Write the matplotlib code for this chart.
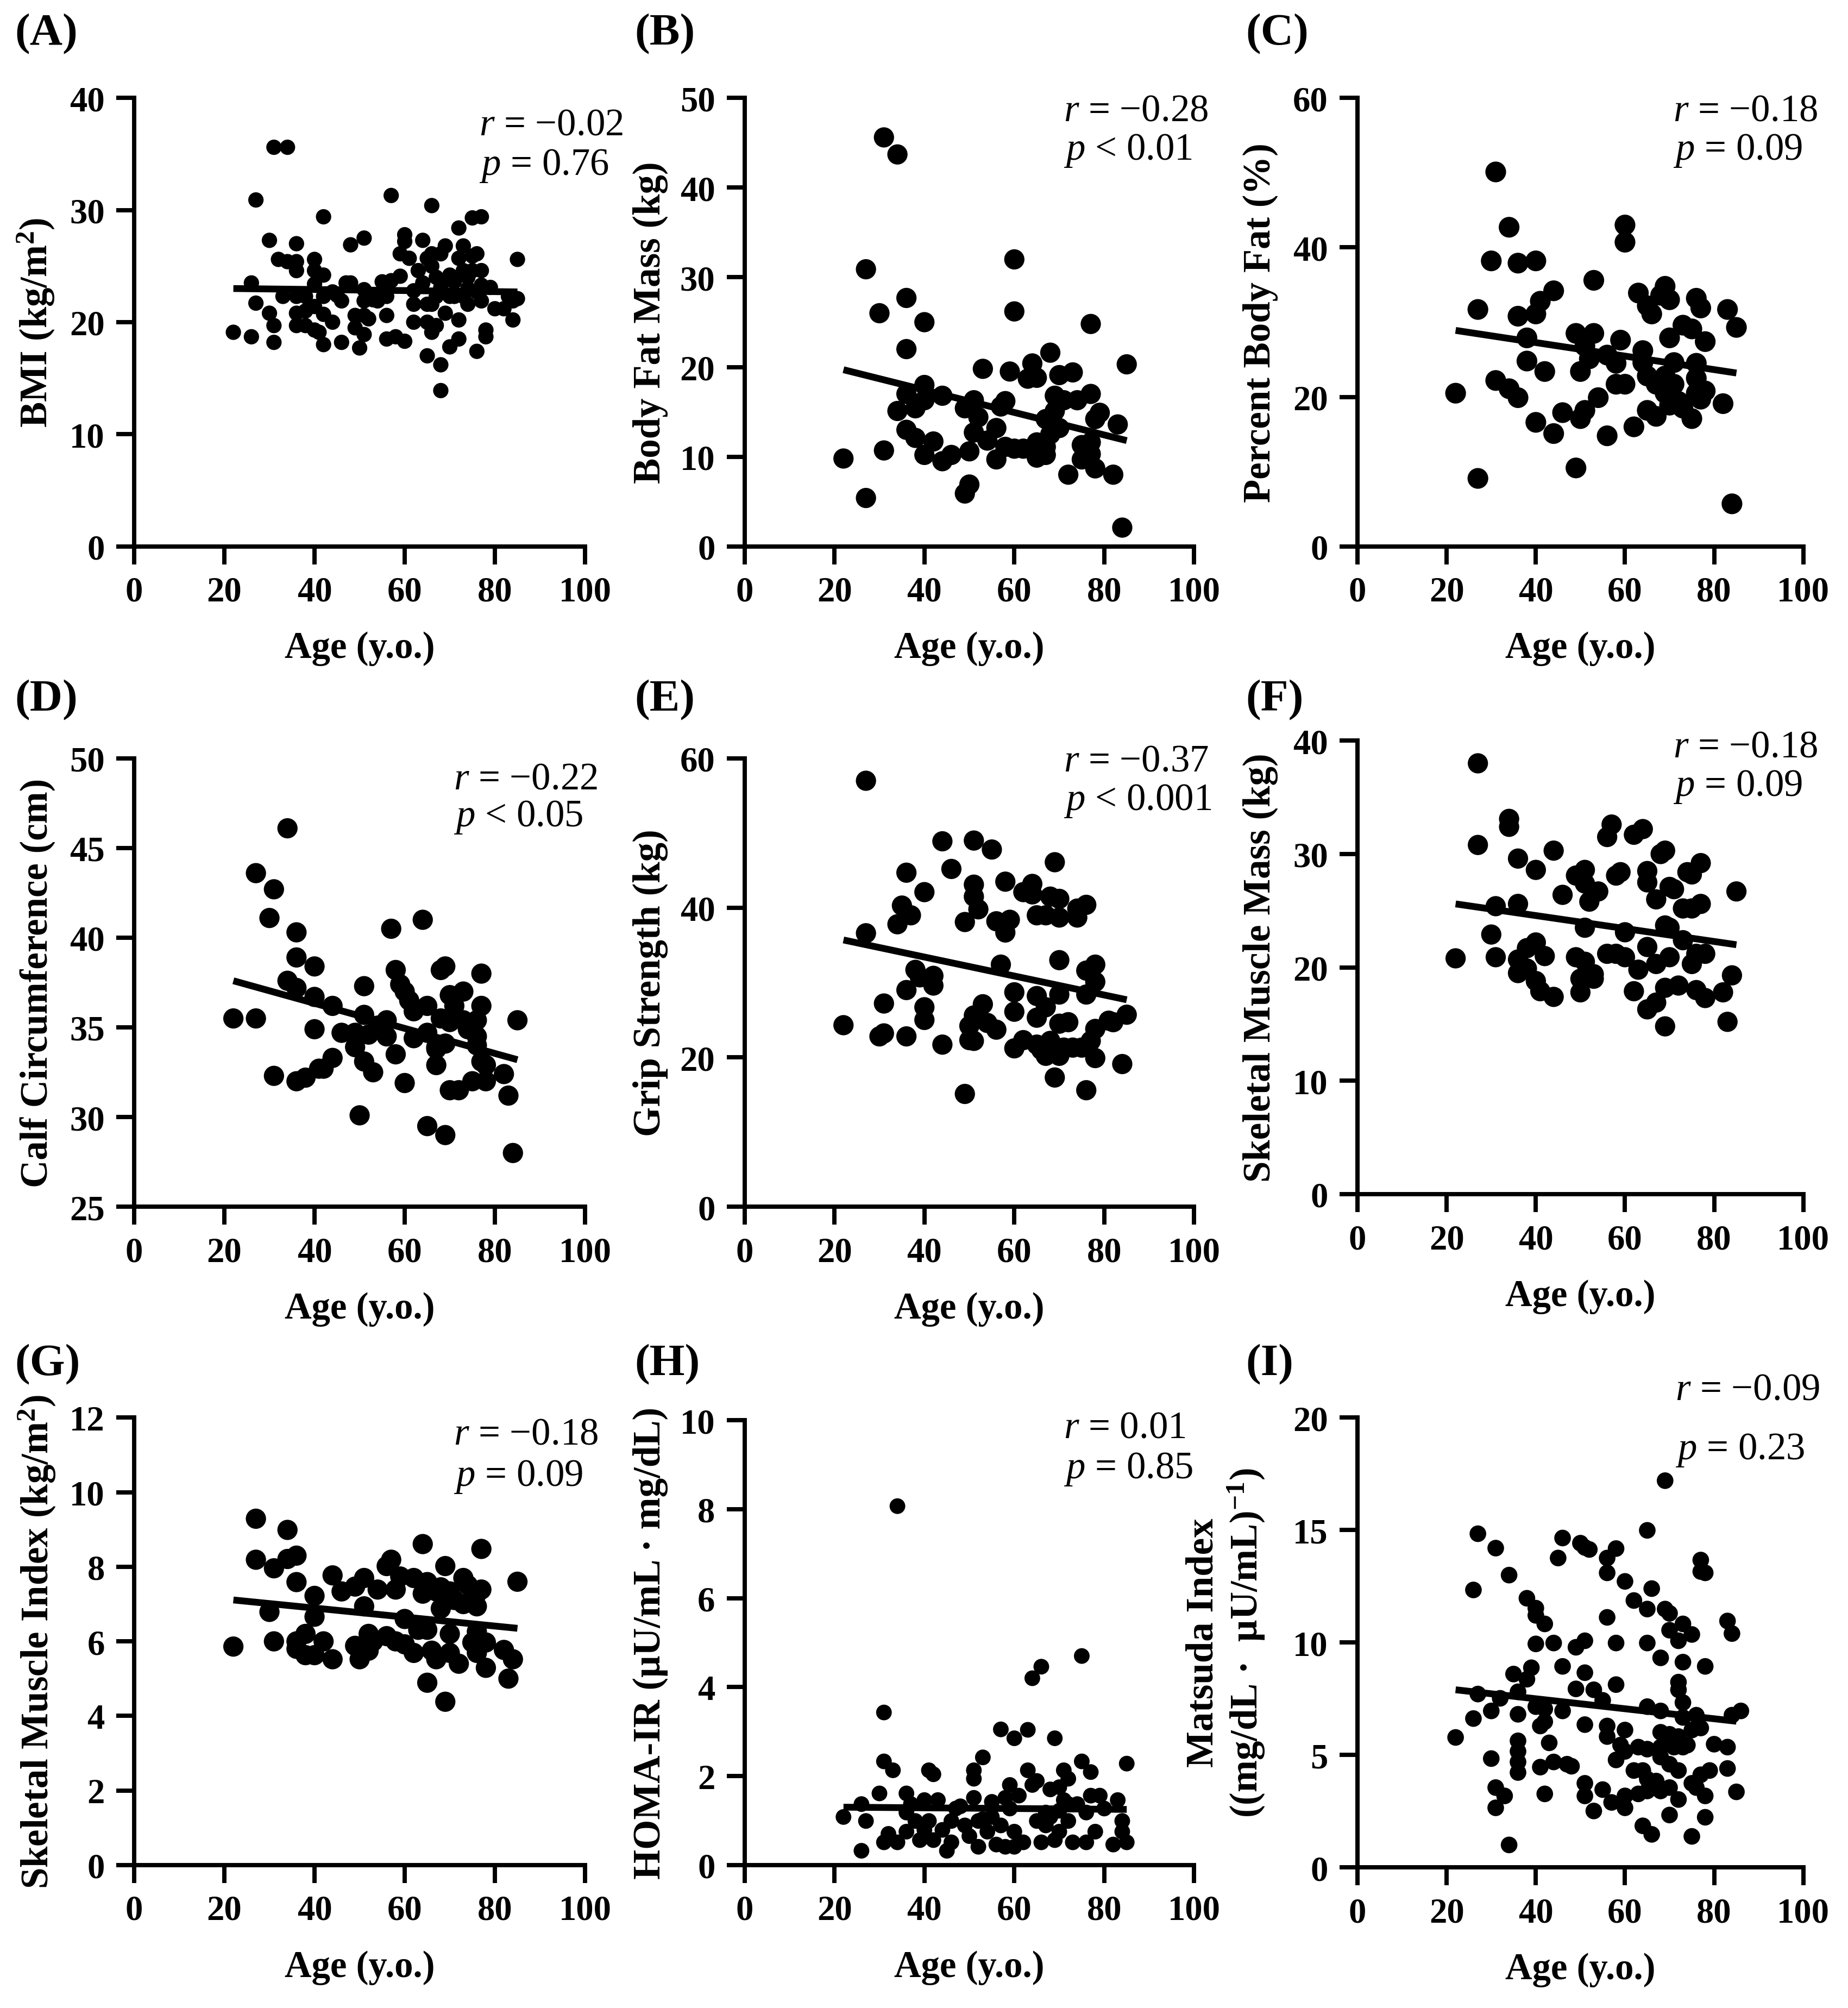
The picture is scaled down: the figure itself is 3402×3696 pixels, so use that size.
import numpy as np
import matplotlib
matplotlib.use("Agg")
from matplotlib import pyplot as plt

plt.rcParams['font.family'] = ['Liberation Serif', 'DejaVu Serif']
plt.rcParams['mathtext.fontset'] = 'custom'
plt.rcParams['mathtext.rm'] = 'Liberation Serif'
plt.rcParams['mathtext.it'] = 'Liberation Serif:italic'
plt.rcParams['mathtext.bf'] = 'Liberation Serif:bold'

# ---- data: (age, value) ----
bmi_pts = [(22, 19.1), (26, 23.5), (26, 18.7), (27, 30.9), (27, 21.7), (30, 27.3), (30, 20.8), (31, 19.7),
           (31, 18.2), (31, 35.6), (34, 35.6), (32, 25.6), (34, 25.4), (33, 22.3), (36, 27.0), (36, 25.4),
           (36, 24.6), (36, 22.3), (36, 20.8), (36, 19.7), (38, 22.3), (38, 19.7), (40, 25.6), (40, 24.6),
           (40, 23.4), (40, 21.4), (40, 19.3), (41, 19.1), (42, 29.4), (42, 24.2), (42, 22.3), (42, 20.7),
           (42, 18.0), (44, 22.7), (44, 20.0), (46, 21.9), (46, 18.2), (47, 23.5), (48, 26.9), (48, 23.5),
           (49, 20.6), (49, 19.5), (50, 17.7), (51, 27.5), (51, 22.9), (51, 21.9), (51, 20.6), (51, 18.9),
           (52, 20.3), (53, 22.3), (54, 21.9), (55, 23.6), (56, 22.3), (56, 20.6), (56, 18.5), (57, 23.7),
           (57, 31.3), (58, 18.7), (59, 24.1), (59, 26.1), (60, 27.8), (60, 27.2), (60, 18.3), (61, 25.7),
           (62, 21.6), (62, 20.0), (63, 24.6), (64, 27.3), (64, 23.5), (65, 25.7), (65, 21.6), (65, 20.0),
           (65, 17.0), (66, 30.4), (66, 26.1), (66, 25.0), (66, 21.6), (66, 19.1), (67, 19.7), (67, 22.3),
           (68, 16.2), (68, 13.9), (68, 23.1), (68, 26.1), (69, 26.8), (69, 20.8), (70, 24.2), (70, 17.8),
           (70, 22.3), (71, 23.6), (71, 22.3), (72, 28.4), (72, 25.7), (72, 20.2), (72, 18.5), (73, 26.8),
           (73, 24.6), (73, 22.3), (74, 24.0), (74, 21.6), (75, 29.3), (75, 25.9), (75, 24.6), (76, 22.7),
           (76, 17.4), (76, 26.1), (77, 29.4), (77, 24.6), (77, 23.3), (77, 21.9), (78, 19.3), (78, 18.7),
           (79, 23.1), (80, 21.2), (82, 21.2), (83, 22.3), (84, 20.2), (84, 21.9), (85, 25.6), (85, 22.1),
           (67, 24.0), (70, 23.8), (74, 23.0), (62, 22.8), (45, 22.4), (53, 22.0), (38, 21.0)]

fat_pts = [(22, 9.8), (27, 30.9), (27, 5.4), (30, 26.0), (31, 45.6), (31, 10.7), (34, 43.7), (34, 15.1),
           (36, 27.7), (36, 22.0), (36, 17.0), (36, 13.0), (38, 15.4), (38, 12.1), (40, 25.0), (40, 18.0),
           (40, 16.3), (40, 10.2), (42, 11.7), (44, 16.8), (44, 9.5), (46, 10.2), (49, 15.4), (49, 5.9),
           (50, 6.9), (50, 10.6), (51, 16.3), (51, 12.7), (52, 14.4), (53, 19.8), (54, 11.8), (56, 13.2),
           (56, 9.7), (57, 15.6), (58, 16.2), (59, 19.5), (58, 11.1), (60, 32.0), (60, 26.2), (60, 10.9),
           (62, 10.9), (63, 18.7), (64, 20.4), (65, 11.6), (65, 18.8), (65, 9.9), (67, 14.2), (67, 10.2),
           (67, 11.1), (68, 12.5), (68, 21.6), (69, 16.8), (69, 15.1), (70, 19.1), (70, 13.2), (71, 16.3),
           (72, 8.0), (73, 19.4), (74, 16.3), (75, 11.3), (75, 9.7), (77, 17.0), (77, 11.6), (77, 10.3),
           (77, 24.8), (78, 14.2), (78, 8.7), (79, 14.9), (82, 8.0), (83, 13.6), (84, 2.1), (85, 20.3)]

pbf_pts = [(22, 20.5), (27, 31.7), (27, 9.1), (30, 38.2), (31, 50.1), (31, 22.2), (34, 42.7), (34, 21.1),
           (36, 37.9), (36, 30.8), (36, 19.9), (38, 27.9), (38, 24.8), (40, 38.2), (40, 31.1), (40, 16.6),
           (41, 32.8), (42, 23.4), (44, 34.2), (44, 15.1), (46, 17.9), (49, 28.5), (49, 10.5), (50, 17.1),
           (50, 23.4), (51, 26.8), (51, 18.2), (52, 25.1), (53, 28.5), (53, 35.6), (54, 19.9), (56, 25.6),
           (56, 14.8), (58, 21.7), (58, 24.5), (59, 27.6), (60, 43.0), (60, 40.7), (60, 21.7), (62, 16.0),
           (63, 33.9), (64, 26.2), (64, 24.6), (65, 32.2), (65, 18.2), (65, 22.8), (66, 31.1), (67, 21.7),
           (67, 17.4), (68, 33.6), (69, 34.8), (69, 22.8), (70, 33.0), (69, 20.5), (70, 18.9), (70, 27.9),
           (71, 24.6), (71, 21.7), (72, 19.4), (73, 29.6), (73, 18.5), (75, 17.1), (75, 29.1), (76, 33.2),
           (76, 24.5), (76, 22.5), (76, 20.5), (77, 31.9), (77, 19.7), (78, 27.4), (78, 20.8), (82, 19.1),
           (83, 31.7), (84, 5.7), (85, 29.3)]

calf_pts = [(22, 35.5), (27, 35.5), (27, 43.6), (31, 42.7), (30, 41.1), (31, 32.3), (34, 46.1), (34, 37.6),
            (36, 40.3), (36, 38.9), (36, 37.2), (36, 32.0), (38, 32.2), (40, 38.4), (40, 36.7), (40, 34.9),
            (41, 32.7), (42, 32.7), (44, 36.2), (44, 33.3), (46, 34.7), (49, 34.7), (49, 33.9), (50, 30.1),
            (51, 37.3), (51, 35.7), (51, 33.1), (52, 34.6), (53, 32.5), (54, 35.1), (56, 35.4), (56, 34.5),
            (57, 40.5), (58, 38.2), (58, 33.5), (59, 37.4), (60, 37.0), (60, 31.9), (61, 36.5), (62, 35.9),
            (62, 34.4), (64, 41.0), (65, 36.2), (65, 34.7), (65, 29.5), (67, 33.9), (67, 32.9), (67, 33.8),
            (68, 38.2), (68, 35.5), (69, 38.4), (69, 34.1), (69, 29.0), (70, 36.8), (70, 31.5), (70, 35.3),
            (71, 36.2), (72, 31.5), (73, 37.0), (73, 35.4), (74, 34.9), (75, 32.0), (76, 35.4), (76, 34.5),
            (76, 34.0), (77, 33.1), (77, 38.0), (77, 36.2), (78, 32.0), (78, 32.9), (82, 32.4), (83, 31.2),
            (84, 28.0), (85, 35.4)]

grip_pts = [(22, 24.3), (27, 57.0), (27, 36.6), (30, 22.8), (31, 27.2), (31, 23.2), (34, 37.8), (35, 40.3),
            (36, 44.7), (36, 29.0), (36, 22.8), (37, 39.0), (38, 31.7), (39, 30.7), (40, 42.1), (40, 26.7),
            (40, 25.0), (42, 30.9), (42, 29.6), (44, 48.9), (44, 21.7), (46, 45.2), (49, 38.1), (49, 15.1),
            (50, 24.2), (50, 22.3), (51, 49.0), (51, 43.1), (51, 41.5), (51, 25.6), (51, 22.2), (52, 39.8),
            (53, 27.1), (55, 47.8), (54, 24.6), (56, 23.7), (56, 38.2), (57, 32.4), (58, 43.5), (58, 36.7),
            (59, 38.4), (60, 28.7), (60, 26.1), (60, 21.2), (62, 42.1), (62, 22.3), (64, 43.2), (64, 41.8),
            (65, 39.0), (65, 28.2), (65, 25.3), (65, 21.7), (66, 21.0), (67, 39.0), (67, 26.7), (67, 20.2),
            (68, 22.2), (68, 41.5), (69, 46.1), (69, 17.3), (70, 41.2), (70, 38.7), (70, 33.0), (70, 28.4),
            (70, 24.5), (70, 20.2), (71, 21.3), (72, 24.7), (73, 21.3), (74, 39.9), (74, 38.7), (75, 21.3),
            (76, 40.4), (76, 31.6), (76, 28.4), (76, 15.6), (77, 22.2), (78, 30.1), (78, 32.4), (78, 19.9),
            (78, 23.8), (81, 24.9), (82, 24.7), (84, 19.1), (85, 25.7)]

smm_pts = [(22, 20.8), (27, 38.0), (27, 30.8), (30, 22.9), (31, 25.4), (31, 20.9), (34, 33.1), (34, 32.4),
           (36, 29.6), (36, 25.6), (36, 20.7), (36, 19.5), (38, 21.7), (38, 19.9), (40, 28.6), (40, 18.8),
           (40, 22.2), (41, 17.9), (42, 21.0), (44, 30.3), (44, 17.4), (46, 26.4), (49, 28.1), (49, 20.9),
           (50, 19.0), (50, 17.8), (51, 28.6), (51, 27.4), (51, 23.5), (51, 20.5), (52, 25.8), (53, 19.4),
           (54, 26.7), (53, 19.0), (56, 31.5), (57, 32.6), (56, 21.2), (58, 28.1), (59, 28.4), (58, 21.2),
           (60, 23.1), (60, 20.9), (62, 31.7), (62, 17.9), (63, 19.8), (64, 32.2), (65, 28.5), (65, 27.5),
           (65, 21.8), (65, 16.3), (67, 26.0), (67, 20.3), (67, 16.9), (68, 30.0), (69, 30.3), (69, 23.7),
           (69, 14.8), (70, 23.5), (70, 20.9), (70, 27.1), (71, 26.9), (69, 18.2), (72, 18.4), (73, 22.4),
           (73, 25.2), (75, 20.3), (74, 28.4), (75, 28.2), (75, 25.2), (76, 21.2), (76, 18.0), (77, 25.6),
           (77, 29.2), (78, 17.3), (78, 21.2), (82, 17.8), (83, 15.2), (84, 19.3), (85, 26.7)]

smi_pts = [(22, 5.86), (27, 9.29), (27, 8.19), (30, 6.79), (31, 7.96), (31, 6.0), (34, 8.99), (34, 8.21),
           (36, 8.30), (36, 7.59), (36, 6.0), (36, 5.80), (38, 6.2), (38, 5.63), (40, 7.22), (40, 6.66),
           (40, 5.63), (42, 6.0), (44, 7.77), (44, 5.52), (46, 7.34), (49, 7.47), (49, 5.88), (50, 5.52),
           (51, 7.70), (51, 6.94), (52, 6.2), (52, 5.75), (53, 6.0), (54, 7.39), (56, 8.02), (57, 8.19),
           (56, 6.14), (58, 7.39), (58, 6.0), (59, 7.74), (60, 6.60), (60, 5.92), (62, 7.70), (62, 5.69),
           (64, 8.61), (63, 6.31), (65, 7.59), (64, 7.28), (65, 6.31), (65, 4.89), (66, 5.75), (67, 7.34),
           (67, 5.52), (68, 7.45), (68, 6.88), (69, 8.02), (69, 4.38), (69, 7.11), (70, 6.2), (70, 5.69),
           (70, 7.34), (71, 7.11), (72, 5.40), (73, 7.70), (73, 7.0), (74, 7.51), (75, 5.97), (76, 7.28),
           (76, 6.26), (76, 5.69), (76, 6.94), (77, 8.48), (77, 7.39), (78, 5.97), (78, 5.29), (82, 5.77),
           (83, 5.0), (84, 5.52), (85, 7.60)]

homa_pts = [(22, 1.08), (26, 1.37), (26, 0.32), (27, 0.99), (30, 1.61), (31, 3.43), (31, 2.33), (31, 0.51),
            (32, 0.70), (33, 2.13), (34, 8.07), (34, 0.51), (36, 1.61), (36, 1.18), (36, 0.75), (38, 0.99),
            (39, 0.56), (40, 1.46), (40, 0.79), (41, 2.13), (41, 0.99), (42, 2.04), (42, 0.56), (43, 1.46),
            (44, 0.79), (45, 0.32), (46, 0.51), (46, 0.99), (48, 1.32), (49, 0.89), (50, 0.65), (51, 2.13),
            (51, 1.51), (51, 1.94), (52, 0.99), (52, 0.41), (53, 2.42), (53, 1.03), (54, 0.75), (55, 1.42),
            (56, 0.46), (57, 3.05), (57, 0.89), (58, 0.41), (58, 1.51), (59, 1.80), (60, 2.85), (60, 0.75),
            (60, 0.41), (61, 1.56), (62, 0.51), (63, 2.13), (63, 3.04), (64, 4.20), (64, 1.80), (65, 1.89),
            (65, 0.99), (66, 4.46), (66, 0.51), (67, 0.89), (68, 1.70), (69, 2.85), (69, 0.56), (70, 1.75),
            (70, 1.22), (70, 0.75), (71, 2.13), (71, 1.46), (72, 1.94), (72, 0.99), (73, 0.51), (74, 1.37),
            (75, 4.70), (75, 2.33), (76, 0.51), (77, 2.09), (77, 1.56), (78, 0.75), (79, 1.56), (80, 1.27),
            (82, 0.46), (83, 1.46), (84, 0.99), (84, 0.75), (85, 2.28), (85, 0.51), (59, 1.27), (55, 1.08),
            (72, 1.37), (67, 1.18), (47, 1.27), (37, 1.37), (68, 1.08), (76, 1.18)]

mat_pts = [(22, 5.78), (26, 12.34), (26, 6.62), (27, 14.84), (27, 7.71), (30, 6.96), (30, 4.84), (31, 14.20),
           (31, 3.55), (31, 2.65), (32, 7.52), (33, 3.18), (34, 13.0), (34, 1.0), (35, 8.60), (36, 7.81),
           (36, 6.81), (36, 5.63), (36, 5.16), (36, 4.69), (36, 4.22), (38, 11.97), (38, 8.37), (39, 8.88),
           (40, 11.53), (40, 11.21), (40, 9.94), (40, 7.15), (41, 6.29), (41, 4.46), (42, 10.83), (42, 7.05),
           (42, 6.48), (42, 3.27), (43, 5.54), (44, 9.98), (44, 4.69), (45, 13.76), (46, 14.65), (46, 8.94),
           (46, 6.96), (47, 4.59), (48, 4.50), (49, 9.79), (49, 7.94), (50, 14.42), (51, 14.23), (51, 10.08),
           (51, 8.66), (51, 6.35), (51, 3.74), (51, 3.18), (52, 14.14), (53, 7.90), (53, 2.51), (55, 7.43),
           (55, 3.46), (56, 13.76), (56, 13.10), (56, 11.12), (56, 6.29), (56, 5.82), (57, 2.89), (58, 9.98),
           (58, 14.18), (58, 8.13), (58, 4.78), (59, 5.44), (60, 2.65), (60, 12.72), (60, 6.11), (60, 3.18),
           (60, 5.16), (62, 11.87), (62, 4.31), (63, 5.35), (63, 3.27), (64, 1.85), (64, 4.31), (65, 14.99),
           (65, 11.49), (65, 9.98), (65, 7.15), (65, 5.26), (65, 3.93), (65, 3.40), (66, 12.40), (66, 1.47),
           (67, 3.84), (68, 4.91), (68, 6.96), (68, 6.01), (68, 5.35), (68, 3.40), (68, 9.32), (69, 11.49),
           (69, 17.20), (70, 2.33), (70, 3.55), (70, 11.30), (70, 10.55), (70, 5.92), (70, 4.59), (71, 5.35),
           (72, 5.82), (72, 4.31), (72, 10.08), (72, 8.24), (72, 7.90), (72, 3.02), (73, 10.83), (73, 9.13),
           (73, 7.33), (73, 6.67), (73, 5.35), (74, 5.44), (75, 10.36), (75, 3.74), (75, 1.38), (75, 6.11),
           (76, 3.55), (76, 6.77), (77, 13.67), (77, 13.16), (77, 6.20), (77, 4.12), (78, 3.18), (78, 2.23),
           (78, 13.10), (78, 8.94), (79, 4.31), (80, 5.48), (83, 10.96), (83, 5.35), (83, 4.40), (84, 10.40),
           (85, 3.36), (86, 6.96), (84, 6.77)]

# regression line end points (age 22 -> 85)
fit_x = [22, 85]
fit_bmi = [23.0, 22.7]
fit_fat = [19.7, 11.8]
fit_pbf = [28.9, 23.2]
fit_calf = [37.6, 33.2]
fit_grip = [35.7, 27.7]
fit_smm = [25.6, 22.0]
fit_smi = [7.11, 6.35]
fit_homa = [1.30, 1.25]
fit_mat = [7.9, 6.5]

letters = ['(A)', '(B)', '(C)', '(D)', '(E)', '(F)', '(G)', '(H)', '(I)']
ylabels = ['BMI (kg/m$^{\\mathbf{2}}$)', 'Body Fat Mass (kg)', 'Percent Body Fat (%)',
           'Calf Circumference (cm)', 'Grip Strength (kg)', 'Skeletal Muscle Mass (kg)',
           'Skeletal Muscle Index (kg/m$^{\\mathbf{2}}$)', 'HOMA-IR (μU/mL · mg/dL)',
           'Matsuda Index\n((mg/dL ·  μU/mL)$^{\\mathbf{-1}}$)']
r_text = ['−0.02', '−0.28', '−0.18', '−0.22', '−0.37', '−0.18', '−0.18', '0.01', '−0.09']
p_text = ['= 0.76', '< 0.01', '= 0.09', '< 0.05', '< 0.001', '= 0.09', '= 0.09', '= 0.85', '= 0.23']

points = [bmi_pts, fat_pts, pbf_pts, calf_pts, grip_pts, smm_pts, smi_pts, homa_pts, mat_pts]
fits = [fit_bmi, fit_fat, fit_pbf, fit_calf, fit_grip, fit_smm, fit_smi, fit_homa, fit_mat]
yranges = [(0, 40, 10), (0, 50, 10), (0, 60, 20), (25, 50, 5), (0, 60, 20), (0, 40, 10), (0, 12, 2), (0, 10, 2), (0, 20, 5)]

# layout (figure fractions)
lefts = [0.0726, 0.4029, 0.7346] * 3
widths = [0.244, 0.2433, 0.2412] * 3
bottoms = [0.7277, 0.7277, 0.7277, 0.3989, 0.3989, 0.4052, 0.0712, 0.0712, 0.070]
heights = [0.2233, 0.2233, 0.2233, 0.2233, 0.2233, 0.2258, 0.2227, 0.2214, 0.2239]
msize = [46, 80, 84, 80, 80, 80, 80, 48, 54]
r_pos = [(0.765, 0.94, 0.849), (0.71, 0.971, 0.883), (0.708, 0.971, 0.883),
         (0.708, 0.954, 0.869), (0.71, 0.994, 0.906), (0.708, 0.986, 0.899),
         (0.708, 0.963, 0.869), (0.71, 0.983, 0.891), (0.713, 1.062, 0.929)]
ylab_x = [-0.172, -0.17, -0.178, -0.175, -0.17, -0.178, -0.17, -0.17, -0.205]
letter_pos = [(0.008, 0.983), (0.3435, 0.983), (0.674, 0.983),
              (0.008, 0.6514), (0.3435, 0.6514), (0.674, 0.6514),
              (0.008, 0.3206), (0.3435, 0.3206), (0.674, 0.3206)]

fig = plt.figure(figsize=(11.34, 12.323), dpi=300)

for i in range(9):
    ax = fig.add_axes([lefts[i], bottoms[i], widths[i], heights[i]])
    y0, y1, ystep = yranges[i]
    xs = [p[0] for p in points[i]]
    ys = [p[1] for p in points[i]]
    ax.scatter(xs, ys, s=msize[i], color='black', edgecolors='none', clip_on=False, zorder=3)
    ax.plot(fit_x, fits[i], color='black', lw=3.0, solid_capstyle='butt', zorder=4)
    ax.set_xlim(0, 100)
    ax.set_ylim(y0, y1)
    ax.set_xticks(np.arange(0, 101, 20))
    ax.set_yticks(np.arange(y0, y1 + ystep / 2, ystep))
    for s in ['top', 'right']:
        ax.spines[s].set_visible(False)
    for s in ['left', 'bottom']:
        ax.spines[s].set_linewidth(1.9)
    ax.tick_params(width=1.9, length=8, direction='out', labelsize=15.5, pad=5)
    for lab in ax.get_xticklabels() + ax.get_yticklabels():
        lab.set_fontweight('bold')
    ax.set_xlabel('Age (y.o.)', fontsize=16.5, fontweight='bold', labelpad=10)
    ax.set_ylabel(ylabels[i], fontsize=17, fontweight='bold', linespacing=1.15)
    ax.yaxis.set_label_coords(ylab_x[i], 0.5)
    rx, ry, py = r_pos[i]
    ax.text(rx, ry, '$r$ = ' + r_text[i], transform=ax.transAxes, fontsize=17, va='center', ha='left')
    ax.text(rx, py, '$p$ ' + p_text[i], transform=ax.transAxes, fontsize=17, va='center', ha='left')
    fig.text(letter_pos[i][0], letter_pos[i][1], letters[i], fontsize=20, fontweight='bold', va='center', ha='left')

fig.savefig('out.png', dpi=300)
